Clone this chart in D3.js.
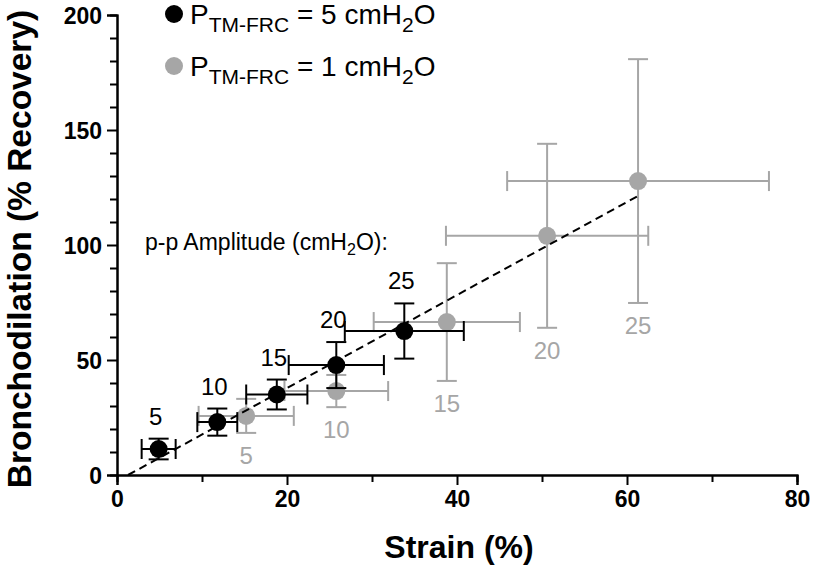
<!DOCTYPE html>
<html>
<head>
<meta charset="utf-8">
<script src="https://cdn.jsdelivr.net/npm/d3@7"></script>
<style>
  html, body { margin: 0; padding: 0; background: #fff; }
  svg { display: block; }
  text { font-family: "Liberation Sans", Arial, sans-serif; }
</style>
</head>
<body>
<svg id="chart" width="819" height="570"></svg>
<script>
// ---------- data ----------
const amplitudes = ["5", "10", "15", "20", "25"];

const blackStrain   = [4.9, 11.8, 18.8, 25.8, 33.8];
const blackBroncho  = [11.3, 23.0, 35.0, 47.8, 62.6];
const blackStrainErr  = [2.0, 2.35, 3.6, 5.6, 7.0];
const blackBronchoErr = [4.5, 5.9, 6.5, 10.0, 12.0];

const grayStrain   = [15.2, 25.8, 38.8, 50.6, 61.3];
const grayBroncho  = [25.7, 36.5, 66.5, 104.0, 127.8];
const grayStrainErr  = [5.6, 6.1, 8.6, 11.9, 15.4];
const grayBronchoErr = [7.4, 7.0, 25.6, 40.0, 53.0];

const fitX = [1.3, 61.3];
const fitY = [0, 121.3];

const xTicks = [0, 20, 40, 60, 80];
const yTicks = [0, 50, 100, 150, 200];

const legendLabels = [
  { pre: "P", sub: "TM-FRC", mid: " = 5 cmH", sub2: "2", post: "O" },
  { pre: "P", sub: "TM-FRC", mid: " = 1 cmH", sub2: "2", post: "O" }
];

// ---------- layout ----------
const W = 819, H = 570;
const margin = { left: 117, right: 22, top: 15, bottom: 95 };
const svg = d3.select("#chart");

const x = d3.scaleLinear().domain([0, 80]).range([margin.left, W - margin.right]);
const y = d3.scaleLinear().domain([0, 200]).range([H - margin.bottom, margin.top]);

const BLACK = "#000000", GRAY = "#a6a6a6";

// ---------- axes ----------
const xMinor = d3.range(10, 80, 20);
const yMinor = d3.range(0, 201, 10).filter(v => v % 50 !== 0);

const xAxis = svg.append("g").attr("transform", `translate(0,${y(0)})`);
xAxis.call(d3.axisBottom(x).tickValues(xTicks).tickFormat(d3.format("d")).tickSize(10).tickPadding(6));
xAxis.append("g").call(d3.axisBottom(x).tickValues(xMinor).tickFormat("").tickSize(7));

const yAxis = svg.append("g").attr("transform", `translate(${x(0)},0)`);
yAxis.call(d3.axisLeft(y).tickValues(yTicks).tickFormat(d3.format("d")).tickSize(10).tickPadding(5));
yAxis.append("g").call(d3.axisLeft(y).tickValues(yMinor).tickFormat("").tickSize(7));

svg.selectAll(".domain").attr("stroke", BLACK).attr("stroke-width", 2);
svg.selectAll(".tick line").attr("stroke", BLACK).attr("stroke-width", 2);
svg.selectAll(".tick text")
  .attr("fill", BLACK)
  .style("font-family", "'Liberation Sans', Arial, sans-serif")
  .style("font-weight", "bold")
  .style("font-size", "23px");
yAxis.selectAll(".tick text").attr("dy", "0.36em");

// axis titles
svg.append("text")
  .attr("x", (x(0) + x(80)) / 2 + 2)
  .attr("y", 558)
  .attr("text-anchor", "middle")
  .style("font-weight", "bold")
  .style("font-size", "32px")
  .text("Strain (%)");

svg.append("text")
  .attr("transform", `translate(31,${249}) rotate(-90)`)
  .attr("text-anchor", "middle")
  .style("font-weight", "bold")
  .style("font-size", "33.5px")
  .text("Bronchodilation (% Recovery)");

// ---------- series ----------
function drawSeries(xs, ys, xe, ye, color, labelAbove) {
  const g = svg.append("g");
  const data = xs.map((v, i) => ({ x: v, y: ys[i], xe: xe[i], ye: ye[i], lab: amplitudes[i] }));
  const cap = 10;
  data.forEach(d => {
    const cx = x(d.x), cy = y(d.y);
    const x1 = x(d.x - d.xe), x2 = x(d.x + d.xe);
    const y1 = y(d.y + d.ye), y2 = y(d.y - d.ye);
    const e = g.append("g").attr("stroke", color).attr("stroke-width", 2).attr("fill", "none");
    e.append("line").attr("x1", x1).attr("x2", x2).attr("y1", cy).attr("y2", cy);
    e.append("line").attr("x1", cx).attr("x2", cx).attr("y1", y1).attr("y2", y2);
    e.append("line").attr("x1", x1).attr("x2", x1).attr("y1", cy - cap).attr("y2", cy + cap);
    e.append("line").attr("x1", x2).attr("x2", x2).attr("y1", cy - cap).attr("y2", cy + cap);
    e.append("line").attr("x1", cx - cap).attr("x2", cx + cap).attr("y1", y1).attr("y2", y1);
    e.append("line").attr("x1", cx - cap).attr("x2", cx + cap).attr("y1", y2).attr("y2", y2);
    g.append("circle").attr("cx", cx).attr("cy", cy).attr("r", 9).attr("fill", color);
    g.append("text")
      .attr("x", labelAbove ? cx - 3 : cx)
      .attr("y", labelAbove ? y1 - 14 : y2 + 31)
      .attr("text-anchor", "middle")
      .attr("fill", color)
      .style("font-size", "24px")
      .text(d.lab);
  });
}
drawSeries(grayStrain, grayBroncho, grayStrainErr, grayBronchoErr, GRAY, false);
drawSeries(blackStrain, blackBroncho, blackStrainErr, blackBronchoErr, BLACK, true);

// fit line
const fitData = fitX.map((v, i) => [v, fitY[i]]);
svg.append("path")
  .datum(fitData)
  .attr("d", d3.line().x(d => x(d[0])).y(d => y(d[1])))
  .attr("fill", "none")
  .attr("stroke", BLACK)
  .attr("stroke-width", 2)
  .attr("stroke-dasharray", "8,5");

// annotation
const ann = svg.append("text").attr("x", 145).attr("y", 250).style("font-size", "23px").attr("fill", BLACK);
ann.append("tspan").text("p-p Amplitude (cmH");
ann.append("tspan").attr("dy", 5).style("font-size", "16px").text("2");
ann.append("tspan").attr("dy", -5).text("O):");

// legend
const legendColors = [BLACK, GRAY];
const legendY = [14, 66];
legendLabels.forEach((L, i) => {
  svg.append("circle").attr("cx", 174).attr("cy", legendY[i]).attr("r", 9).attr("fill", legendColors[i]);
  const t = svg.append("text").attr("x", 190).attr("y", legendY[i] + 10).style("font-size", "28px").attr("fill", BLACK);
  t.append("tspan").text(L.pre);
  t.append("tspan").attr("dy", 8).style("font-size", "21px").text(L.sub);
  t.append("tspan").attr("dy", -8).text(L.mid);
  t.append("tspan").attr("dy", 8).style("font-size", "21px").text(L.sub2);
  t.append("tspan").attr("dy", -8).text(L.post);
});
</script>
</body>
</html>
